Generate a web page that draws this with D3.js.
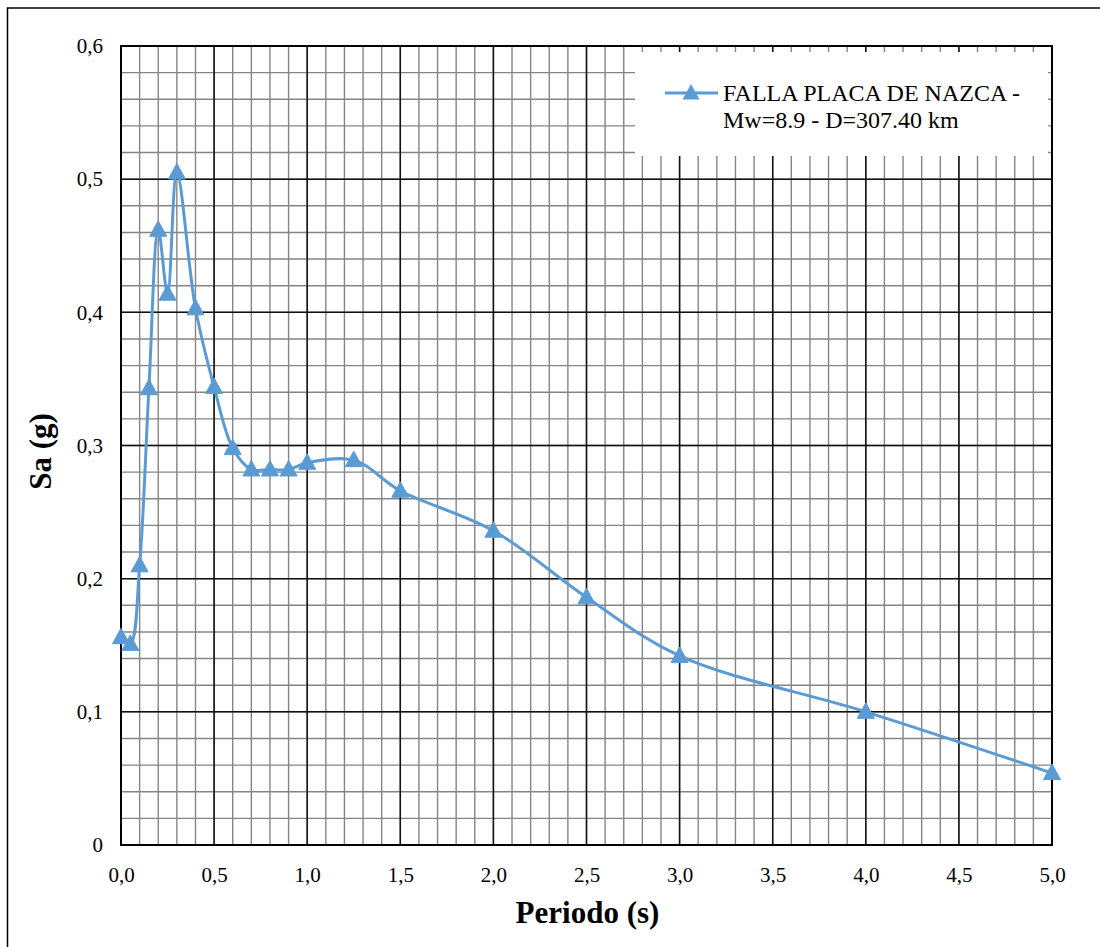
<!DOCTYPE html>
<html>
<head>
<meta charset="utf-8">
<script src="https://cdn.jsdelivr.net/npm/d3@7"></script>
<style>
  html, body { margin: 0; padding: 0; background: #fff; }
  svg { display: block; }
</style>
</head>
<body>
<svg id="chart" width="1100" height="947"></svg>
<script>
// ---- data ----
const periods = [0, 0.05, 0.1, 0.15, 0.2, 0.25, 0.3, 0.4, 0.5, 0.6, 0.7, 0.8, 0.9, 1.0, 1.25, 1.5, 2.0, 2.5, 3.0, 4.0, 5.0];
const saValues = [0.156, 0.151, 0.210, 0.343, 0.462, 0.414, 0.505, 0.403, 0.344, 0.298, 0.282, 0.282, 0.282, 0.287, 0.289, 0.266, 0.236, 0.186, 0.142, 0.100, 0.054];
const xTicks = [0, 0.5, 1.0, 1.5, 2.0, 2.5, 3.0, 3.5, 4.0, 4.5, 5.0];
const yTicks = [0, 0.1, 0.2, 0.3, 0.4, 0.5, 0.6];
const seriesName = ["FALLA PLACA DE NAZCA -", "Mw=8.9 - D=307.40 km"];
const xTitle = "Periodo (s)";
const yTitle = "Sa (g)";

(function () {
// pick an installed serif font (Times-like) by measuring text widths
function pickFont(cands) {
  const c = document.createElement("canvas").getContext("2d");
  const s = "FALLA PLACA Mw=8.9 abcdefghijklmnop 0123456789";
  const w = f => { c.font = "40px " + f; return c.measureText(s).width; };
  const base = ["monospace", "sans-serif"].map(w);
  for (const f of cands) {
    const a = w(`'${f}', monospace`), b = w(`'${f}', sans-serif`);
    if (a !== base[0] || b !== base[1]) return `'${f}', serif`;
  }
  return "serif";
}
const FONT = pickFont(["Liberation Serif", "Tinos", "Times New Roman", "Times", "Nimbus Roman", "Nimbus Roman No9 L", "FreeSerif", "DejaVu Serif", "Noto Serif"]);

const svg = d3.select("#chart").attr("font-family", FONT);
const pL = 121, pR = 1052, pT = 46, pB = 845;
const x = d3.scaleLinear().domain([0, 5]).range([pL, pR]);
const y = d3.scaleLinear().domain([0, 0.6]).range([pB, pT]);
const color = "#5B9BD5";

// outer frame
svg.append("rect").attr("x", 7.5).attr("y", 8).attr("width", 1200).attr("height", 1200)
  .attr("fill", "none").attr("stroke", "#000").attr("stroke-width", 1.5);

// minor grid
const minorX = d3.range(0, 5.0001, 0.1).map(v => +v.toFixed(2));
const minorY = d3.range(0, 0.6001, 0.02).map(v => +v.toFixed(3));
const g = svg.append("g");
g.selectAll(".mx").data(minorX).join("line")
  .attr("x1", d => x(d)).attr("x2", d => x(d)).attr("y1", pT).attr("y2", pB)
  .attr("stroke", "#858585").attr("stroke-width", 1.4);
g.selectAll(".my").data(minorY).join("line")
  .attr("y1", d => y(d)).attr("y2", d => y(d)).attr("x1", pL).attr("x2", pR)
  .attr("stroke", "#858585").attr("stroke-width", 1.4);
// major grid
g.selectAll(".Mx").data(xTicks).join("line")
  .attr("x1", d => x(d)).attr("x2", d => x(d)).attr("y1", pT).attr("y2", pB)
  .attr("stroke", "#111").attr("stroke-width", 1.5);
g.selectAll(".My").data(yTicks).join("line")
  .attr("y1", d => y(d)).attr("y2", d => y(d)).attr("x1", pL).attr("x2", pR)
  .attr("stroke", "#111").attr("stroke-width", 1.5);

// plot border
svg.append("rect").attr("x", pL).attr("y", pT).attr("width", pR - pL).attr("height", pB - pT)
  .attr("fill", "none").attr("stroke", "#000").attr("stroke-width", 2);

// axes labels via d3 axes
const fmt = d => d3.format(".1f")(d).replace(".", ",");
const xAxis = svg.append("g").attr("transform", `translate(0,${pB})`)
  .call(d3.axisBottom(x).tickValues(xTicks).tickFormat(fmt).tickSize(0).tickPadding(22));
xAxis.attr("font-family", FONT).attr("font-size", 21);
xAxis.select(".domain").remove();
xAxis.selectAll("text").attr("fill", "#000");

const yAxis = svg.append("g").attr("transform", `translate(${pL},0)`)
  .call(d3.axisLeft(y).tickValues(yTicks).tickFormat(d => d === 0 ? "0" : fmt(d)).tickSize(0).tickPadding(18));
yAxis.attr("font-family", FONT).attr("font-size", 21);
yAxis.select(".domain").remove();
yAxis.selectAll("text").attr("fill", "#000");

// titles
svg.append("text").attr("x", (pL + pR) / 2 + 1).attr("y", 923).attr("text-anchor", "middle")
  .attr("font-size", 31).attr("font-weight", "bold").text(xTitle);
svg.append("text").attr("transform", `translate(51,${(pT + pB) / 2 + 6}) rotate(-90)`)
  .attr("text-anchor", "middle").attr("font-size", 31).attr("font-weight", "bold").text(yTitle);

// series line
const pts = periods.map((p, i) => [p, saValues[i]]);
const line = d3.line().x(d => x(d[0])).y(d => y(d[1])).curve(d3.curveCatmullRom.alpha(0.5));
svg.append("path").datum(pts).attr("d", line).attr("fill", "none")
  .attr("stroke", color).attr("stroke-width", 3).attr("stroke-linejoin", "round");

// markers
const tri = "M0,-9L8.5,6.5L-8.5,6.5Z";
svg.selectAll(".mk").data(pts).join("path")
  .attr("transform", d => `translate(${x(d[0])},${y(d[1])})`)
  .attr("d", tri).attr("fill", color).attr("stroke", color).attr("stroke-width", 1);

// legend
const lg = svg.append("g");
lg.append("rect").attr("x", 635).attr("y", 52).attr("width", 413).attr("height", 104).attr("fill", "#fff");
lg.append("line").attr("x1", 665).attr("x2", 718).attr("y1", 93).attr("y2", 93)
  .attr("stroke", color).attr("stroke-width", 3);
lg.append("path").attr("transform", "translate(691,93)").attr("d", tri).attr("fill", color);
lg.selectAll(".lt").data(seriesName).join("text")
  .attr("x", 723).attr("y", (d, i) => 101 + i * 27).attr("font-size", 24).text(d => d);
})();
</script>
</body>
</html>
